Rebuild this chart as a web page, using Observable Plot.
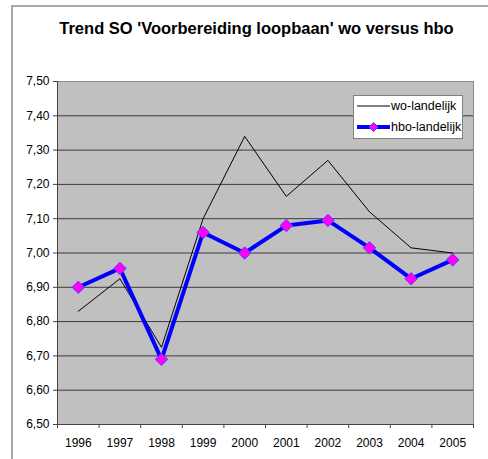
<!DOCTYPE html>
<html><head><meta charset="utf-8">
<script src="https://cdn.jsdelivr.net/npm/d3@7"></script>
<script src="https://cdn.jsdelivr.net/npm/@observablehq/plot@0.6"></script>
<style>
html,body{margin:0;padding:0;background:#fff;overflow:hidden}
#wrap{position:relative;width:488px;height:459px;font-family:"Liberation Sans",Arial,sans-serif;overflow:hidden}
#title{width:513px;height:60px;box-sizing:border-box;padding-top:18px;line-height:20px;font-size:16.5px;font-weight:bold;text-align:center;color:#000}
#border{position:absolute;left:11px;top:5px;width:600px;height:600px;border-left:2px solid #a8a8a8;border-top:2px solid #a8a8a8;pointer-events:none}
#legend{position:absolute;left:353px;top:95px;width:108px;height:42px;background:#fff;border:1px solid #808080;font-size:12.5px;color:#000}
#legend .row{position:absolute;left:2px;height:16px;white-space:nowrap}
#legend svg{position:absolute;left:0;top:0}
#legend span{position:absolute;left:35px;top:0;line-height:16px}
</style>
</head><body>
<div id="wrap">
  <div id="title">Trend SO 'Voorbereiding loopbaan' wo versus hbo</div>
  <div id="chart"></div>
  <div id="border"></div>
  <div id="legend"></div>
</div>
<script>
const years = [1996, 1997, 1998, 1999, 2000, 2001, 2002, 2003, 2004, 2005];
const woValues = [6.83, 6.925, 6.725, 7.10, 7.34, 7.165, 7.27, 7.12, 7.015, 7.00];
const hboValues = [6.90, 6.955, 6.69, 7.06, 7.00, 7.08, 7.095, 7.015, 6.925, 6.98];
const yTicks = [6.5, 6.6, 6.7, 6.8, 6.9, 7.0, 7.1, 7.2, 7.3, 7.4, 7.5];
const seriesNames = ["wo-landelijk", "hbo-landelijk"];

const wo = years.map((y, i) => ({year: y, value: woValues[i]}));
const hbo = years.map((y, i) => ({year: y, value: hboValues[i]}));
const boundaries = [years[0] - 0.5, ...years.map(y => y + 0.5)];
const gridTicks = yTicks.slice(1, -1);
const fmt = v => v.toFixed(2).replace(".", ",");

const chart = Plot.plot({
  width: 488,
  height: 399,
  marginTop: 21,
  marginBottom: 35,
  marginLeft: 57,
  marginRight: 15,
  style: {background: "transparent", fontFamily: "'Liberation Sans', Arial, sans-serif", fontSize: "12px", color: "#000"},
  x: {domain: [boundaries[0], boundaries[boundaries.length - 1]]},
  y: {domain: [6.5, 7.5]},
  marks: [
    Plot.frame({fill: "#c0c0c0", stroke: "#8a8a8a"}),
    Plot.ruleY(gridTicks, {stroke: "#3c3c3c", strokeWidth: 1}),
    Plot.ruleX([boundaries[0]], {stroke: "#444"}),
    Plot.ruleY([6.5], {stroke: "#444"}),
    Plot.axisY({ticks: yTicks, tickSize: 4, tickPadding: 4, tickFormat: fmt, label: null, stroke: "#444"}),
    Plot.axisX({ticks: boundaries, tickSize: 4, tickFormat: () => "", label: null, stroke: "#444"}),
    Plot.axisX({ticks: years, tickSize: 0, tickPadding: 14, tickFormat: d => String(d), label: null}),
    Plot.line(wo, {x: "year", y: "value", stroke: "#000", strokeWidth: 1}),
    Plot.line(hbo, {x: "year", y: "value", stroke: "#0000ff", strokeWidth: 4, strokeLinejoin: "miter"}),
    Plot.dot(hbo, {x: "year", y: "value", symbol: "diamond2", r: 5.6, fill: "#ff00ff", stroke: "#5b3cff", strokeWidth: 1})
  ]
});
document.getElementById("chart").appendChild(chart);

const legend = document.getElementById("legend");
legend.innerHTML = `
  <div class="row" style="top:2px;">
    <svg width="34" height="16"><line x1="1" x2="34" y1="8" y2="8" stroke="#000" stroke-width="1"/></svg>
    <span>${seriesNames[0]}</span>
  </div>
  <div class="row" style="top:23px;">
    <svg width="34" height="16"><line x1="1" x2="34" y1="8" y2="8" stroke="#0000ff" stroke-width="4"/>
      <path d="M17.5,3.5 L22,8 L17.5,12.5 L13,8 Z" fill="#ff00ff" stroke="#5b3cff" stroke-width="1"/></svg>
    <span>${seriesNames[1]}</span>
  </div>`;
</script>
</body></html>
